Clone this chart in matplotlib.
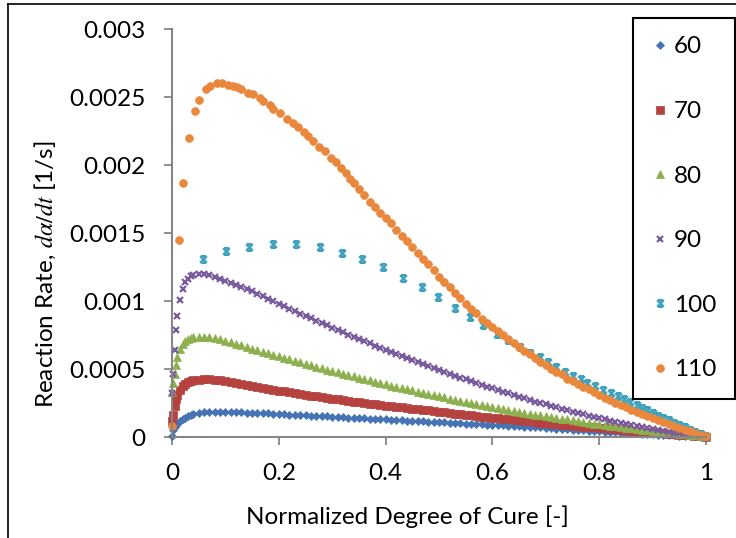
import matplotlib
matplotlib.use("Agg")
import matplotlib.pyplot as plt
from matplotlib.path import Path
from matplotlib.lines import Line2D

plt.rcParams['font.family'] = ['Lato', 'DejaVu Sans']
plt.rcParams['mathtext.fontset'] = 'stix'

# ---------------- data (rates in units of 1e-4 1/s) ----------------
alpha_early = [0, 0.0025, 0.005, 0.0075, 0.01, 0.015, 0.02, 0.025, 0.03, 0.035]
alpha_main = [0.04, 0.05, 0.06, 0.07, 0.08, 0.09, 0.10, 0.11, 0.12, 0.13,
              0.14, 0.15, 0.16, 0.17, 0.18, 0.19, 0.20, 0.21, 0.22, 0.23,
              0.24, 0.25, 0.26, 0.27, 0.28, 0.29, 0.30, 0.31, 0.32, 0.33,
              0.34, 0.35, 0.36, 0.37, 0.38, 0.39, 0.40, 0.41, 0.42, 0.43,
              0.44, 0.45, 0.46, 0.47, 0.48, 0.49, 0.50, 0.51, 0.52, 0.53,
              0.54, 0.55, 0.56, 0.57, 0.58, 0.59, 0.60, 0.61, 0.62, 0.63,
              0.64, 0.65, 0.66, 0.67, 0.68, 0.69, 0.70, 0.71, 0.72, 0.73,
              0.74, 0.75, 0.76, 0.77, 0.78, 0.79, 0.80, 0.81, 0.82, 0.83,
              0.84, 0.85, 0.86, 0.87, 0.88, 0.89, 0.90, 0.91, 0.92, 0.93,
              0.94, 0.95, 0.96, 0.97, 0.98, 0.99, 1.00]
alpha_dense = alpha_early + alpha_main

rate_60 = [0.10, 0.50, 0.70, 0.85, 0.98, 1.15, 1.30, 1.42, 1.52, 1.60,
           1.66, 1.76, 1.81, 1.84, 1.86, 1.86, 1.86, 1.85, 1.83, 1.82,
           1.80, 1.78, 1.77, 1.75, 1.73, 1.71, 1.69, 1.67, 1.65, 1.63,
           1.61, 1.59, 1.57, 1.55, 1.53, 1.51, 1.49, 1.47, 1.45, 1.43,
           1.41, 1.39, 1.37, 1.35, 1.33, 1.31, 1.29, 1.27, 1.25, 1.23,
           1.21, 1.19, 1.17, 1.15, 1.13, 1.11, 1.09, 1.07, 1.05, 1.03,
           1.01, 0.99, 0.97, 0.95, 0.93, 0.91, 0.89, 0.87, 0.85, 0.83,
           0.81, 0.78, 0.76, 0.74, 0.72, 0.70, 0.67, 0.65, 0.62, 0.60,
           0.57, 0.55, 0.52, 0.50, 0.47, 0.45, 0.42, 0.40, 0.37, 0.35,
           0.33, 0.30, 0.28, 0.26, 0.24, 0.22, 0.20, 0.18, 0.16, 0.14,
           0.12, 0.10, 0.08, 0.06, 0.04, 0.02, 0.01]

rate_70 = [1.20, 1.60, 2.30, 2.80, 3.10, 3.45, 3.75, 3.92, 4.05, 4.12,
           4.17, 4.22, 4.25, 4.24, 4.21, 4.16, 4.10, 4.04, 3.98, 3.90,
           3.83, 3.76, 3.69, 3.62, 3.55, 3.48, 3.41, 3.35, 3.29, 3.23,
           3.17, 3.11, 3.05, 2.99, 2.93, 2.87, 2.81, 2.76, 2.71, 2.66,
           2.61, 2.56, 2.51, 2.46, 2.41, 2.36, 2.31, 2.26, 2.22, 2.17,
           2.13, 2.08, 2.04, 1.99, 1.95, 1.90, 1.86, 1.81, 1.77, 1.72,
           1.68, 1.63, 1.59, 1.54, 1.50, 1.46, 1.42, 1.38, 1.34, 1.30,
           1.26, 1.22, 1.18, 1.14, 1.10, 1.06, 1.02, 0.98, 0.95, 0.91,
           0.88, 0.84, 0.80, 0.77, 0.73, 0.70, 0.66, 0.63, 0.59, 0.56,
           0.53, 0.49, 0.46, 0.43, 0.39, 0.36, 0.33, 0.30, 0.27, 0.24,
           0.21, 0.18, 0.15, 0.12, 0.09, 0.06, 0.03]

rate_80 = [3.30, 4.00, 4.60, 5.30, 5.90, 6.50, 6.85, 7.05, 7.20, 7.28,
           7.33, 7.38, 7.38, 7.33, 7.26, 7.18, 7.08, 6.97, 6.85, 6.73,
           6.61, 6.49, 6.38, 6.27, 6.16, 6.05, 5.94, 5.83, 5.72, 5.61,
           5.50, 5.39, 5.28, 5.17, 5.06, 4.96, 4.86, 4.76, 4.66, 4.56,
           4.46, 4.36, 4.26, 4.16, 4.06, 3.96, 3.87, 3.78, 3.69, 3.60,
           3.51, 3.42, 3.33, 3.24, 3.15, 3.07, 2.99, 2.91, 2.83, 2.75,
           2.67, 2.59, 2.51, 2.43, 2.35, 2.28, 2.21, 2.14, 2.07, 2.00,
           1.93, 1.86, 1.79, 1.72, 1.65, 1.59, 1.53, 1.47, 1.41, 1.35,
           1.29, 1.23, 1.17, 1.11, 1.05, 0.99, 0.93, 0.88, 0.83, 0.78,
           0.73, 0.68, 0.63, 0.58, 0.53, 0.48, 0.44, 0.40, 0.36, 0.32,
           0.28, 0.24, 0.20, 0.16, 0.12, 0.08, 0.04]

rate_90 = [3.20, 4.60, 6.40, 7.90, 8.90, 10.10, 10.90, 11.40, 11.65, 11.82,
           11.92, 11.98, 11.95, 11.88, 11.76, 11.63, 11.48, 11.33, 11.18, 11.02,
           10.86, 10.70, 10.52, 10.34, 10.16, 9.98, 9.80, 9.62, 9.44, 9.26,
           9.08, 8.90, 8.72, 8.55, 8.38, 8.21, 8.04, 7.87, 7.70, 7.53,
           7.36, 7.20, 7.04, 6.88, 6.72, 6.56, 6.40, 6.25, 6.10, 5.95,
           5.80, 5.65, 5.50, 5.35, 5.20, 5.06, 4.92, 4.78, 4.64, 4.50,
           4.36, 4.23, 4.10, 3.97, 3.84, 3.71, 3.58, 3.45, 3.33, 3.21,
           3.09, 2.97, 2.85, 2.73, 2.61, 2.50, 2.39, 2.28, 2.17, 2.06,
           1.96, 1.86, 1.76, 1.66, 1.56, 1.47, 1.38, 1.29, 1.20, 1.11,
           1.03, 0.95, 0.87, 0.79, 0.72, 0.65, 0.58, 0.51, 0.45, 0.39,
           0.33, 0.27, 0.22, 0.17, 0.12, 0.08, 0.04]

alpha_100 = [0.058, 0.102, 0.144, 0.189, 0.233, 0.277, 0.319, 0.356, 0.395, 0.433,
             0.468, 0.499, 0.53, 0.558, 0.583, 0.608, 0.629, 0.652, 0.67, 0.689,
             0.705, 0.72, 0.736, 0.751, 0.765, 0.777, 0.792, 0.807, 0.823, 0.835,
             0.847, 0.858, 0.87, 0.88, 0.89, 0.90, 0.91, 0.92, 0.93, 0.94,
             0.95, 0.96, 0.97, 0.98, 0.99, 1.0]
rate_100 = [13.1, 13.7, 14.0, 14.2, 14.2, 14.0, 13.5, 13.1, 12.5, 11.7,
            11.0, 10.3, 9.5, 8.8, 8.2, 7.6, 7.1, 6.6, 6.2, 5.85,
            5.5, 5.15, 4.8, 4.5, 4.3, 4.0, 3.75, 3.45, 3.2, 3.0,
            2.8, 2.6, 2.35, 2.15, 1.95, 1.75, 1.55, 1.4, 1.25, 1.05,
            0.9, 0.72, 0.55, 0.4, 0.25, 0.1]

alpha_110_start = [0, 0.0137, 0.02, 0.031, 0.043, 0.051, 0.063, 0.071, 0.085, 0.093,
                   0.105, 0.114, 0.121, 0.13, 0.143, 0.151, 0.164, 0.171, 0.183, 0.19,
                   0.202, 0.215, 0.226, 0.236, 0.247, 0.254, 0.264, 0.275, 0.286, 0.297,
                   0.307, 0.316, 0.326, 0.333]
alpha_110 = alpha_110_start + alpha_main[30:]
rate_110 = [0.8, 14.5, 18.7, 22.0, 24.0, 24.8, 25.6, 25.8, 26.0, 26.0,
            25.9, 25.8, 25.7, 25.6, 25.3, 25.2, 24.9, 24.7, 24.4, 24.1,
            23.8, 23.4, 23.1, 22.8, 22.4, 22.1, 21.8, 21.3, 21.0, 20.5,
            20.2, 19.8, 19.4, 19.0,
            18.7, 18.2, 17.8, 17.3, 16.9, 16.5, 16.1, 15.7, 15.2, 14.8,
            14.4, 14.0, 13.5, 13.1, 12.7, 12.3, 11.8, 11.4, 11.0, 10.6,
            10.2, 9.8, 9.4, 9.1, 8.7, 8.4, 8.1, 7.8, 7.5, 7.2,
            6.9, 6.6, 6.3, 6.1, 5.8, 5.5, 5.3, 5.0, 4.8, 4.6,
            4.3, 4.1, 3.9, 3.7, 3.5, 3.3, 3.1, 2.9, 2.7, 2.5,
            2.35, 2.2, 2.0, 1.85, 1.7, 1.55, 1.4, 1.25, 1.1, 0.95,
            0.8, 0.68, 0.55, 0.42, 0.3, 0.18, 0.08]

series_labels = ['60', '70', '80', '90', '100', '110']
x_ticks = [0, 0.2, 0.4, 0.6, 0.8, 1.0]
x_tick_labels = ['0', '0.2', '0.4', '0.6', '0.8', '1']
y_ticks = [0, 0.0005, 0.001, 0.0015, 0.002, 0.0025, 0.003]
y_tick_labels = ['0', '0.0005', '0.001', '0.0015', '0.002', '0.0025', '0.003']
UNIT = 1e-4

# ---------------- figure ----------------
W, H = 736, 538
FS = 17.5
fig = plt.figure(figsize=(W / 100, H / 100), dpi=100)
ax = fig.add_axes([172 / W, 101 / H, 534 / W, 408 / H])

star_path = Path([(-1, -1), (1, 1), (-1, 1), (1, -1), (-0.7, 1), (0.7, 1), (-0.7, -1), (0.7, -1)],
                 [Path.MOVETO, Path.LINETO, Path.MOVETO, Path.LINETO,
                  Path.MOVETO, Path.LINETO, Path.MOVETO, Path.LINETO])

colors = ['#4673B4', '#B5423F', '#8DB04E', '#7A5C9E', '#3FA2BC', '#E9883C']
xs = [alpha_dense, alpha_dense, alpha_dense, alpha_dense, alpha_100, alpha_110]
ys = [rate_60, rate_70, rate_80, rate_90, rate_100, rate_110]
styles = [dict(marker='D', ms=4.3, mew=0.5),
          dict(marker='s', ms=5.5, mew=0.5),
          dict(marker='^', ms=5.8, mew=0.5),
          dict(marker='x', ms=4.3, mew=1.6),
          dict(marker=star_path, ms=4.8, mew=1.7),
          dict(marker='o', ms=5.6, mew=0.5)]

for x, y, c, st, lab in zip(xs, ys, colors, styles, series_labels):
    ax.plot(x, [v * UNIT for v in y], linestyle='none', color=c, mfc=c, mec=c,
            label=lab, clip_on=False, **st)

ax.set_xlim(0, 1)
ax.set_ylim(0, 0.003)
ax.set_xticks(x_ticks)
ax.set_xticklabels(x_tick_labels)
ax.set_yticks(y_ticks)
ax.set_yticklabels(y_tick_labels)

for s in ['top', 'right']:
    ax.spines[s].set_visible(False)
for s in ['left', 'bottom']:
    ax.spines[s].set_color('#868686')
    ax.spines[s].set_linewidth(1.5)
ax.tick_params(direction='out', length=6, width=1.3, color='#868686',
               labelsize=FS, labelcolor='black')
ax.tick_params(axis='y', pad=13)
ax.tick_params(axis='x', pad=13)

fig.text(45 / W, 1 - 274 / H, r'Reaction Rate, $d\alpha/dt$ [1/s]', rotation=90,
         ha='center', va='center', fontsize=FS)
fig.text(407 / W, 1 - 517 / H, 'Normalized Degree of Cure [-]',
         ha='center', va='center', fontsize=FS)

leg = ax.legend(loc='upper left', bbox_to_anchor=(633 / W, 1 - 18 / H),
                bbox_transform=fig.transFigure, borderaxespad=0,
                fontsize=FS, labelspacing=1.79, borderpad=0.76,
                handlelength=0.72, handletextpad=0.2, fancybox=False,
                frameon=True, edgecolor='black', framealpha=1)
leg.get_frame().set_linewidth(1.5)

fig.add_artist(Line2D([8 / W, 8 / W], [0, 1 - 4 / H], transform=fig.transFigure,
                      color='black', lw=1.2))
fig.add_artist(Line2D([8 / W, 1], [1 - 4 / H, 1 - 4 / H], transform=fig.transFigure,
                      color='black', lw=1.2))

fig.savefig('out.png', dpi=100)
